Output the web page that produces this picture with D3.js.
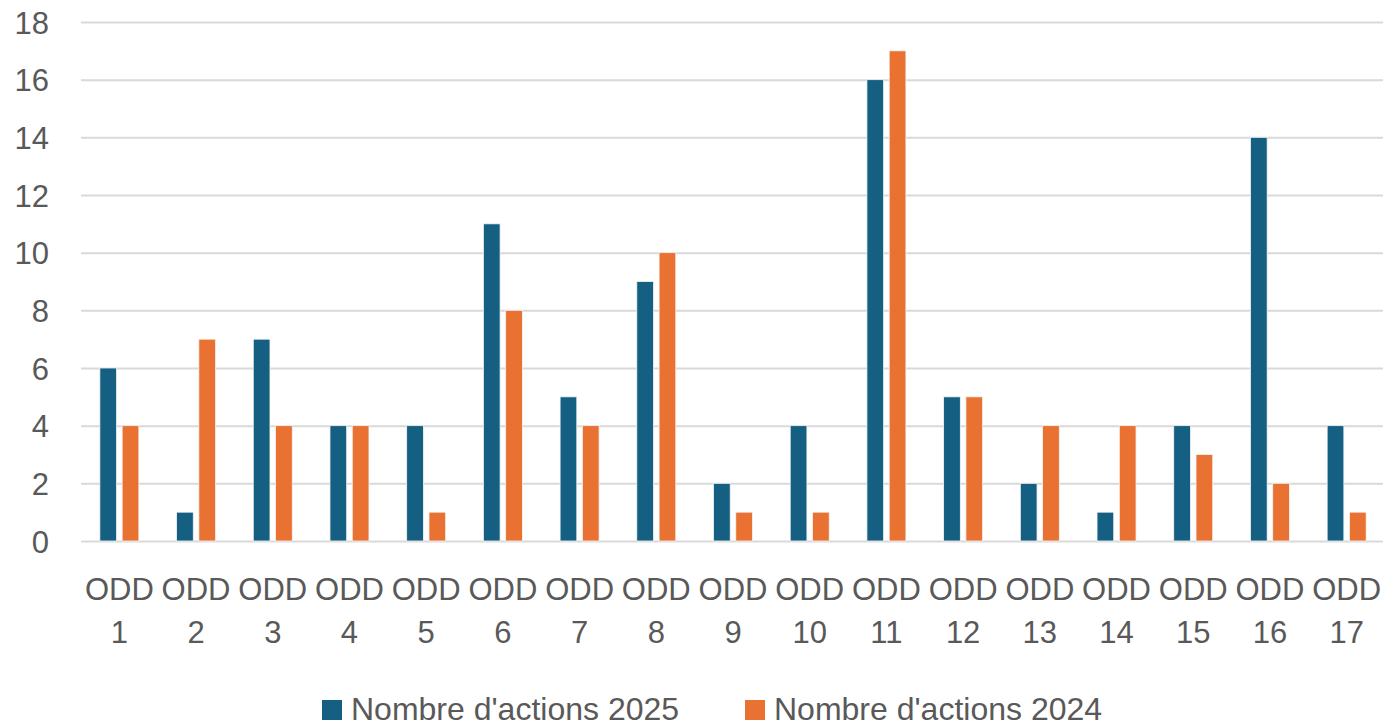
<!DOCTYPE html>
<html>
<head>
<meta charset="utf-8">
<script src="https://cdn.jsdelivr.net/npm/d3@7"></script>
<style>
  body { margin: 0; background: #fff; }
  text { font-family: "Liberation Sans", Arial, sans-serif; fill: #595959; }
</style>
</head>
<body>
<div id="visual"></div>
<script>
// ODD categories and the two series
var categories = ["1", "2", "3", "4", "5", "6", "7", "8", "9", "10", "11", "12", "13", "14", "15", "16", "17"];
var actions2025 = [6, 1, 7, 4, 4, 11, 5, 9, 2, 4, 16, 5, 2, 1, 4, 14, 4];
var actions2024 = [4, 7, 4, 4, 1, 8, 4, 10, 1, 1, 17, 5, 4, 4, 3, 2, 1];
var seriesNames = ["Nombre d'actions 2025", "Nombre d'actions 2024"];
var seriesColors = ["#156082", "#E97132"];
var yTicks = [0, 2, 4, 6, 8, 10, 12, 14, 16, 18];

var width = 1383, height = 727;
var margin = {top: 22, right: -2, bottom: 186, left: 81};

var svg = d3.select("#visual").append("svg")
    .attr("width", width)
    .attr("height", height);

var x0 = d3.scaleBand()
    .domain(categories)
    .range([margin.left, width - margin.right])
    .padding(0);

var pairW = 39;
var x1 = d3.scaleBand()
    .domain([0, 1])
    .range([x0.bandwidth() / 2 - pairW / 2, x0.bandwidth() / 2 + pairW / 2])
    .paddingInner(0.25);

var y = d3.scaleLinear()
    .domain([0, 18])
    .range([height - margin.bottom, margin.top]);

/* gridlines + y labels */
var yAxis = d3.axisLeft(y)
    .tickValues(yTicks)
    .tickSize(-(width - margin.left))
    .tickPadding(32);

var gy = svg.append("g")
    .attr("transform", "translate(" + margin.left + ",0)")
    .call(yAxis);
gy.select(".domain").remove();
gy.selectAll(".tick line")
    .attr("stroke", "#d9d9d9")
    .attr("stroke-width", 2);
gy.selectAll(".tick text")
    .style("font-size", "31px")
    .attr("dy", "0.36em");

/* bars */
var rows = categories.map(function (c, i) {
    return {cat: c, values: [actions2025[i], actions2024[i]]};
});

var grp = svg.selectAll(".cat")
    .data(rows)
    .enter().append("g")
    .attr("class", "cat")
    .attr("transform", function (d) {
        return "translate(" + x0(d.cat) + ",0)";
    });

grp.selectAll("rect")
    .data(function (d) {
        return d.values.map(function (v, k) { return {k: k, v: v}; });
    })
    .enter().append("rect")
    .attr("x", function (d) { return x1(d.k); })
    .attr("width", x1.bandwidth())
    .attr("y", function (d) { return y(d.v); })
    .attr("height", function (d) { return y(0) - y(d.v); })
    .attr("fill", function (d) { return seriesColors[d.k]; })
    .attr("stroke", "#f4f4f4")
    .attr("stroke-width", 0.8);

/* category labels, two lines */
var lab = svg.append("g").selectAll("text")
    .data(categories)
    .enter().append("text")
    .attr("text-anchor", "middle")
    .style("font-size", "31px")
    .attr("x", function (d) { return x0(d) + x0.bandwidth() / 2; });
lab.append("tspan")
    .attr("x", function (d) { return x0(d) + x0.bandwidth() / 2; })
    .attr("y", 600)
    .text("ODD");
lab.append("tspan")
    .attr("x", function (d) { return x0(d) + x0.bandwidth() / 2; })
    .attr("y", 643)
    .text(function (d) { return d; });

/* legend */
var legX = [322, 745];
var leg = svg.append("g").selectAll("g")
    .data(seriesNames)
    .enter().append("g")
    .attr("transform", function (d, i) {
        return "translate(" + legX[i] + ",700)";
    });
leg.append("rect")
    .attr("width", 20)
    .attr("height", 20)
    .attr("fill", function (d, i) { return seriesColors[i]; });
leg.append("text")
    .attr("x", 29)
    .attr("y", 20)
    .style("font-size", "32px")
    .text(function (d) { return d; });
</script>
</body>
</html>
